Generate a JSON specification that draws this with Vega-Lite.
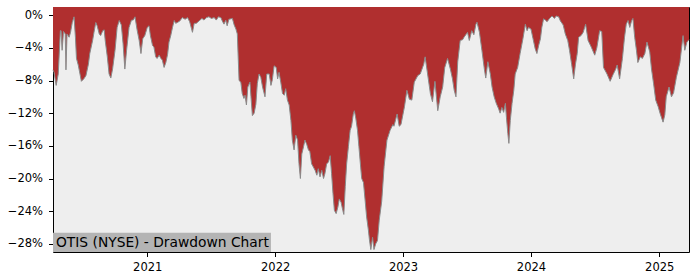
{
  "$schema": "https://vega.github.io/schema/vega-lite/v6.json",
  "width": 636,
  "height": 245,
  "autosize": {"type": "none"},
  "padding": {"left": 53, "top": 7, "right": 11, "bottom": 28},
  "background": "white",
  "config": {
    "view": {"fill": "#eeeeee", "stroke": "black", "strokeWidth": 1},
    "font": "DejaVu Sans",
    "axis": {"labelFont": "DejaVu Sans", "labelFontSize": 11.5, "labelColor": "#000000", "tickColor": "#000000", "domain": false, "grid": false, "title": null, "tickSize": 4.5, "labelOverlap": false}
  },
  "datasets": {
    "series": [
      {"d":"2020-04-07","v":-6.7},{"d":"2020-04-10","v":-7.0},{"d":"2020-04-16","v":-8.6},{"d":"2020-04-22","v":-7.2},{"d":"2020-04-28","v":-1.9},{"d":"2020-04-30","v":-1.9},{"d":"2020-05-03","v":-4.3},{"d":"2020-05-07","v":-2.0},{"d":"2020-05-12","v":-2.3},{"d":"2020-05-14","v":-6.7},{"d":"2020-05-17","v":-2.3},{"d":"2020-05-23","v":-2.7},{"d":"2020-05-27","v":-2.1},{"d":"2020-06-01","v":-0.9},{"d":"2020-06-06","v":-0.2},{"d":"2020-06-10","v":-2.7},{"d":"2020-06-13","v":-5.3},{"d":"2020-06-18","v":-6.1},{"d":"2020-06-23","v":-7.2},{"d":"2020-06-27","v":-8.1},{"d":"2020-07-04","v":-7.8},{"d":"2020-07-10","v":-7.4},{"d":"2020-07-17","v":-6.0},{"d":"2020-07-21","v":-4.7},{"d":"2020-07-29","v":-3.1},{"d":"2020-08-02","v":-2.1},{"d":"2020-08-07","v":-0.9},{"d":"2020-08-11","v":-1.3},{"d":"2020-08-17","v":-2.3},{"d":"2020-08-21","v":-2.5},{"d":"2020-08-27","v":-1.9},{"d":"2020-08-31","v":-1.8},{"d":"2020-09-03","v":-3.1},{"d":"2020-09-09","v":-5.1},{"d":"2020-09-14","v":-7.2},{"d":"2020-09-19","v":-7.7},{"d":"2020-09-24","v":-6.6},{"d":"2020-10-01","v":-4.3},{"d":"2020-10-07","v":-1.5},{"d":"2020-10-13","v":-0.65},{"d":"2020-10-19","v":-1.2},{"d":"2020-10-24","v":-3.5},{"d":"2020-10-29","v":-6.6},{"d":"2020-11-03","v":-4.3},{"d":"2020-11-10","v":-1.5},{"d":"2020-11-17","v":-0.6},{"d":"2020-11-22","v":-0.6},{"d":"2020-11-27","v":-0.2},{"d":"2020-12-03","v":-1.8},{"d":"2020-12-09","v":-3.1},{"d":"2020-12-14","v":-4.7},{"d":"2020-12-19","v":-2.9},{"d":"2020-12-25","v":-2.5},
      {"d":"2021-01-01","v":-1.5},{"d":"2021-01-06","v":-1.3},{"d":"2021-01-10","v":-2.5},{"d":"2021-01-16","v":-3.7},{"d":"2021-01-20","v":-3.9},{"d":"2021-01-25","v":-5.1},{"d":"2021-01-29","v":-5.3},{"d":"2021-02-04","v":-4.9},{"d":"2021-02-09","v":-5.3},{"d":"2021-02-13","v":-5.5},{"d":"2021-02-18","v":-6.4},{"d":"2021-02-23","v":-5.8},{"d":"2021-02-28","v":-4.8},{"d":"2021-03-04","v":-3.3},{"d":"2021-03-09","v":-2.5},{"d":"2021-03-14","v":-1.5},{"d":"2021-03-19","v":-0.65},{"d":"2021-03-23","v":-1.0},{"d":"2021-03-28","v":-0.9},{"d":"2021-04-04","v":-0.7},{"d":"2021-04-11","v":-0.3},{"d":"2021-04-19","v":-0.5},{"d":"2021-04-26","v":-0.3},{"d":"2021-05-02","v":-0.8},{"d":"2021-05-10","v":-2.1},{"d":"2021-05-15","v":-1.0},{"d":"2021-05-21","v":-1.0},{"d":"2021-05-29","v":-0.7},{"d":"2021-06-06","v":-0.4},{"d":"2021-06-12","v":-0.6},{"d":"2021-06-19","v":-0.3},{"d":"2021-06-26","v":-0.2},{"d":"2021-07-03","v":-0.4},{"d":"2021-07-11","v":-0.3},{"d":"2021-07-17","v":-0.6},{"d":"2021-07-23","v":-0.2},{"d":"2021-07-30","v":-0.3},{"d":"2021-08-03","v":-0.7},{"d":"2021-08-08","v":-1.1},{"d":"2021-08-13","v":-0.6},{"d":"2021-08-17","v":-1.3},{"d":"2021-08-22","v":-0.5},{"d":"2021-09-01","v":-0.4},{"d":"2021-09-06","v":-1.2},{"d":"2021-09-11","v":-1.7},{"d":"2021-09-15","v":-2.3},{"d":"2021-09-20","v":-8.0},{"d":"2021-09-25","v":-8.2},{"d":"2021-09-29","v":-9.6},{"d":"2021-10-04","v":-10.2},{"d":"2021-10-07","v":-9.8},{"d":"2021-10-11","v":-11.0},{"d":"2021-10-15","v":-8.8},{"d":"2021-10-21","v":-8.2},{"d":"2021-10-24","v":-10.0},{"d":"2021-10-28","v":-12.3},{"d":"2021-11-02","v":-12.0},{"d":"2021-11-07","v":-10.9},{"d":"2021-11-11","v":-8.4},{"d":"2021-11-16","v":-7.2},{"d":"2021-11-21","v":-7.6},{"d":"2021-11-26","v":-8.8},{"d":"2021-12-03","v":-10.0},{"d":"2021-12-08","v":-7.2},{"d":"2021-12-15","v":-7.2},{"d":"2021-12-20","v":-8.6},{"d":"2021-12-24","v":-7.9},{"d":"2021-12-29","v":-6.2},
      {"d":"2022-01-04","v":-6.4},{"d":"2022-01-08","v":-7.8},{"d":"2022-01-12","v":-7.0},{"d":"2022-01-17","v":-8.2},{"d":"2022-01-22","v":-9.6},{"d":"2022-01-27","v":-9.8},{"d":"2022-01-31","v":-9.0},{"d":"2022-02-05","v":-10.4},{"d":"2022-02-10","v":-11.0},{"d":"2022-02-15","v":-12.9},{"d":"2022-02-19","v":-15.3},{"d":"2022-02-24","v":-16.5},{"d":"2022-03-01","v":-14.7},{"d":"2022-03-06","v":-15.3},{"d":"2022-03-10","v":-18.2},{"d":"2022-03-14","v":-20.0},{"d":"2022-03-18","v":-17.0},{"d":"2022-03-23","v":-16.1},{"d":"2022-03-27","v":-15.3},{"d":"2022-04-01","v":-15.8},{"d":"2022-04-06","v":-16.5},{"d":"2022-04-10","v":-16.7},{"d":"2022-04-15","v":-18.2},{"d":"2022-04-20","v":-18.6},{"d":"2022-04-25","v":-19.0},{"d":"2022-04-30","v":-19.6},{"d":"2022-05-04","v":-18.8},{"d":"2022-05-09","v":-19.8},{"d":"2022-05-14","v":-19.0},{"d":"2022-05-19","v":-20.0},{"d":"2022-05-23","v":-19.4},{"d":"2022-05-28","v":-18.2},{"d":"2022-06-02","v":-18.0},{"d":"2022-06-07","v":-17.2},{"d":"2022-06-11","v":-19.4},{"d":"2022-06-15","v":-21.8},{"d":"2022-06-19","v":-23.9},{"d":"2022-06-24","v":-24.3},{"d":"2022-06-29","v":-23.5},{"d":"2022-07-03","v":-22.5},{"d":"2022-07-08","v":-22.9},{"d":"2022-07-13","v":-23.9},{"d":"2022-07-16","v":-24.4},{"d":"2022-07-20","v":-21.0},{"d":"2022-07-24","v":-18.2},{"d":"2022-07-29","v":-16.1},{"d":"2022-08-03","v":-14.1},{"d":"2022-08-07","v":-13.6},{"d":"2022-08-12","v":-12.1},{"d":"2022-08-15","v":-11.7},{"d":"2022-08-19","v":-12.6},{"d":"2022-08-24","v":-14.1},{"d":"2022-08-28","v":-16.1},{"d":"2022-09-02","v":-18.6},{"d":"2022-09-05","v":-20.0},{"d":"2022-09-10","v":-20.5},{"d":"2022-09-15","v":-22.8},{"d":"2022-09-19","v":-24.7},{"d":"2022-09-24","v":-26.3},{"d":"2022-09-27","v":-27.5},{"d":"2022-10-01","v":-28.7},{"d":"2022-10-06","v":-27.2},{"d":"2022-10-10","v":-28.7},{"d":"2022-10-15","v":-28.0},{"d":"2022-10-20","v":-27.6},{"d":"2022-10-25","v":-25.1},{"d":"2022-11-01","v":-22.8},{"d":"2022-11-08","v":-18.5},{"d":"2022-11-16","v":-15.3},{"d":"2022-11-25","v":-14.1},{"d":"2022-12-03","v":-13.4},{"d":"2022-12-06","v":-13.6},{"d":"2022-12-15","v":-12.1},{"d":"2022-12-21","v":-13.6},{"d":"2022-12-26","v":-13.4},
      {"d":"2023-01-05","v":-11.2},{"d":"2023-01-12","v":-9.2},{"d":"2023-01-19","v":-10.3},{"d":"2023-01-26","v":-10.4},{"d":"2023-02-02","v":-8.2},{"d":"2023-02-12","v":-7.4},{"d":"2023-02-19","v":-7.2},{"d":"2023-03-01","v":-6.0},{"d":"2023-03-05","v":-5.1},{"d":"2023-03-12","v":-7.2},{"d":"2023-03-20","v":-9.6},{"d":"2023-03-26","v":-10.6},{"d":"2023-04-02","v":-8.1},{"d":"2023-04-10","v":-11.7},{"d":"2023-04-17","v":-10.0},{"d":"2023-04-24","v":-8.8},{"d":"2023-04-30","v":-6.4},{"d":"2023-05-08","v":-5.3},{"d":"2023-05-16","v":-6.6},{"d":"2023-05-22","v":-7.8},{"d":"2023-05-27","v":-9.2},{"d":"2023-06-01","v":-10.0},{"d":"2023-06-06","v":-5.7},{"d":"2023-06-13","v":-3.1},{"d":"2023-06-20","v":-3.0},{"d":"2023-06-24","v":-2.7},{"d":"2023-07-04","v":-2.1},{"d":"2023-07-09","v":-3.1},{"d":"2023-07-16","v":-1.9},{"d":"2023-07-22","v":-2.4},{"d":"2023-07-28","v":-1.1},{"d":"2023-07-31","v":-0.86},{"d":"2023-08-07","v":-2.1},{"d":"2023-08-14","v":-4.3},{"d":"2023-08-21","v":-6.6},{"d":"2023-08-25","v":-7.7},{"d":"2023-08-31","v":-5.7},{"d":"2023-09-07","v":-7.2},{"d":"2023-09-12","v":-8.8},{"d":"2023-09-18","v":-10.0},{"d":"2023-09-24","v":-10.8},{"d":"2023-10-01","v":-11.5},{"d":"2023-10-05","v":-12.0},{"d":"2023-10-10","v":-11.3},{"d":"2023-10-15","v":-11.9},{"d":"2023-10-20","v":-10.8},{"d":"2023-10-23","v":-12.5},{"d":"2023-10-27","v":-14.5},{"d":"2023-10-30","v":-15.7},{"d":"2023-11-03","v":-12.9},{"d":"2023-11-08","v":-10.8},{"d":"2023-11-13","v":-9.2},{"d":"2023-11-17","v":-7.2},{"d":"2023-11-24","v":-6.4},{"d":"2023-12-01","v":-4.7},{"d":"2023-12-09","v":-2.9},{"d":"2023-12-16","v":-1.1},{"d":"2023-12-21","v":-1.9},{"d":"2023-12-25","v":-1.5},
      {"d":"2024-01-01","v":-1.7},{"d":"2024-01-07","v":-2.9},{"d":"2024-01-13","v":-4.1},{"d":"2024-01-18","v":-4.7},{"d":"2024-01-23","v":-3.7},{"d":"2024-01-28","v":-2.9},{"d":"2024-02-01","v":-1.5},{"d":"2024-02-06","v":-0.45},{"d":"2024-02-11","v":-0.6},{"d":"2024-02-16","v":-0.8},{"d":"2024-02-23","v":-0.4},{"d":"2024-03-01","v":-0.1},{"d":"2024-03-08","v":-0.4},{"d":"2024-03-13","v":-0.1},{"d":"2024-03-20","v":-0.2},{"d":"2024-03-25","v":-0.7},{"d":"2024-04-02","v":-1.2},{"d":"2024-04-08","v":-2.3},{"d":"2024-04-15","v":-3.1},{"d":"2024-04-20","v":-4.3},{"d":"2024-04-26","v":-6.0},{"d":"2024-05-02","v":-7.8},{"d":"2024-05-07","v":-6.0},{"d":"2024-05-12","v":-4.7},{"d":"2024-05-16","v":-2.7},{"d":"2024-05-23","v":-2.5},{"d":"2024-05-29","v":-2.1},{"d":"2024-06-05","v":-1.1},{"d":"2024-06-12","v":-3.1},{"d":"2024-06-21","v":-3.9},{"d":"2024-07-01","v":-4.9},{"d":"2024-07-07","v":-4.0},{"d":"2024-07-15","v":-1.9},{"d":"2024-07-21","v":-2.0},{"d":"2024-07-26","v":-6.4},{"d":"2024-08-05","v":-7.2},{"d":"2024-08-14","v":-8.1},{"d":"2024-08-22","v":-7.3},{"d":"2024-08-30","v":-6.6},{"d":"2024-09-03","v":-6.1},{"d":"2024-09-10","v":-7.8},{"d":"2024-09-18","v":-5.3},{"d":"2024-09-24","v":-2.7},{"d":"2024-09-29","v":-1.1},{"d":"2024-10-04","v":-0.65},{"d":"2024-10-09","v":-1.5},{"d":"2024-10-14","v":-0.7},{"d":"2024-10-18","v":-0.4},{"d":"2024-10-23","v":-2.7},{"d":"2024-10-28","v":-4.3},{"d":"2024-11-01","v":-5.8},{"d":"2024-11-08","v":-5.1},{"d":"2024-11-14","v":-5.3},{"d":"2024-11-21","v":-4.7},{"d":"2024-11-27","v":-3.3},{"d":"2024-12-05","v":-4.5},{"d":"2024-12-10","v":-6.6},{"d":"2024-12-16","v":-8.4},{"d":"2024-12-22","v":-10.4},{"d":"2024-12-29","v":-11.2},
      {"d":"2025-01-04","v":-12.1},{"d":"2025-01-12","v":-13.1},{"d":"2025-01-17","v":-12.2},{"d":"2025-01-21","v":-10.0},{"d":"2025-01-29","v":-8.8},{"d":"2025-02-05","v":-10.0},{"d":"2025-02-11","v":-9.5},{"d":"2025-02-19","v":-7.6},{"d":"2025-03-01","v":-5.8},{"d":"2025-03-10","v":-2.5},{"d":"2025-03-15","v":-4.3},{"d":"2025-03-21","v":-3.3},{"d":"2025-03-27","v":-3.0}
    ],
    "label": [{"label": "OTIS (NYSE) - Drawdown Chart"}]
  },
  "layer": [
    {
      "data": {"name": "series"},
      "encoding": {
        "x": {"field": "d", "type": "temporal",
          "scale": {"domain": [{"year": 2020, "month": 4, "date": 7}, {"year": 2025, "month": 3, "date": 27}], "nice": false},
          "axis": {"format": "%Y", "tickCount": {"interval": "year", "step": 1}, "labelPadding": 5, "labelFlush": false}},
        "y": {"field": "v", "type": "quantitative",
          "scale": {"domain": [-29, 1], "nice": false, "zero": false},
          "axis": {"values": [-28, -24, -20, -16, -12, -8, -4, 0], "labelExpr": "format(datum.value, 'd') + '%'", "labelPadding": 6}}
      },
      "layer": [
        {"mark": {"type": "area", "color": "#b02f2f", "interpolate": "linear"}, "encoding": {"y2": {"datum": 1}}},
        {"mark": {"type": "line", "color": "#8a8a8a", "strokeWidth": 1}, "encoding": {}}
      ]
    },
    {
      "data": {"name": "label"},
      "layer": [
        {"mark": {"type": "rect", "color": "#b4b4b4"},
          "encoding": {
            "x": {"datum": {"year": 2020, "month": 4, "date": 7}, "type": "temporal",
              "axis": {"format": "%Y", "tickCount": {"interval": "year", "step": 1}, "labelPadding": 5, "labelFlush": false}},
            "x2": {"datum": {"year": 2021, "month": 12, "date": 20}},
            "y": {"datum": -29, "type": "quantitative",
              "axis": {"values": [-28, -24, -20, -16, -12, -8, -4, 0], "labelExpr": "format(datum.value, 'd') + '%'", "labelPadding": 6}},
            "y2": {"datum": -26.65}
          }},
        {"mark": {"type": "text", "align": "left", "baseline": "alphabetic", "fontSize": 13.8, "font": "DejaVu Sans", "color": "#000000", "dx": 3},
          "encoding": {
            "text": {"field": "label"},
            "x": {"datum": {"year": 2020, "month": 4, "date": 7}, "type": "temporal",
              "axis": {"format": "%Y", "tickCount": {"interval": "year", "step": 1}, "labelPadding": 5, "labelFlush": false}},
            "y": {"datum": -28.4, "type": "quantitative",
              "axis": {"values": [-28, -24, -20, -16, -12, -8, -4, 0], "labelExpr": "format(datum.value, 'd') + '%'", "labelPadding": 6}}
          }}
      ]
    }
  ]
}
